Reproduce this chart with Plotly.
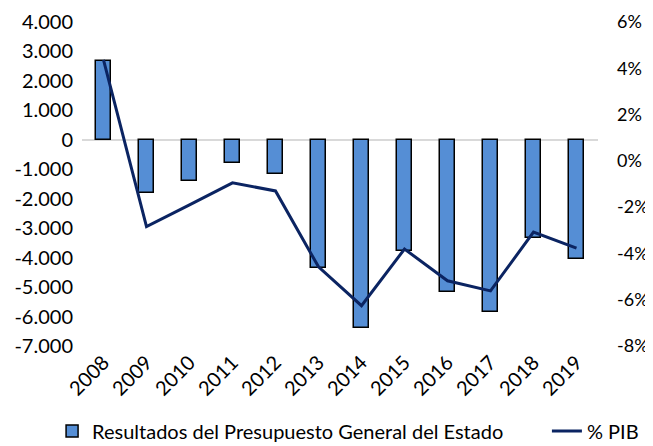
import plotly.graph_objects as go

years = ["2008", "2009", "2010", "2011", "2012", "2013", "2014", "2015", "2016", "2017", "2018", "2019"]
resultados = [2680, -1790, -1390, -780, -1150, -4350, -6380, -3790, -5160, -5840, -3350, -4040]
pct_pib = [4.36, -2.84, -1.90, -0.95, -1.30, -4.58, -6.26, -3.81, -5.18, -5.62, -3.08, -3.77]

left_ticks = [4000, 3000, 2000, 1000, 0, -1000, -2000, -3000, -4000, -5000, -6000, -7000]
left_labels = ["4.000", "3.000", "2.000", "1.000", "0", "-1.000", "-2.000", "-3.000", "-4.000", "-5.000", "-6.000", "-7.000"]
right_ticks = [6, 4, 2, 0, -2, -4, -6, -8]
right_labels = ["6%", "4%", "2%", "0%", "-2%", "-4%", "-6%", "-8%"]

FONT = "Lato"
FS = 20
fig = go.Figure()
fig.add_trace(go.Bar(
    x=years, y=resultados, name="Resultados del Presupuesto General del Estado",
    marker=dict(color="#558ED5", line=dict(color="#000000", width=1.5)),
    width=0.33, yaxis="y", legend="legend",
))
fig.add_trace(go.Scatter(
    x=years, y=pct_pib, name="% PIB", mode="lines",
    line=dict(color="#0B2462", width=3), yaxis="y2", legend="legend2",
))
fig.update_layout(
    width=645, height=438,
    margin=dict(l=74, r=55, t=14, b=100, autoexpand=False),
    paper_bgcolor="white", plot_bgcolor="white",
    font=dict(family=FONT, size=FS, color="#000000"),
    showlegend=True,
    legend=dict(orientation="h", x=-0.058, xanchor="left", y=-0.262, yanchor="middle",
                font=dict(size=FS), itemwidth=30),
    legend2=dict(orientation="h", x=0.901, xanchor="left", y=-0.262, yanchor="middle",
                 font=dict(size=FS), itemwidth=30),
    xaxis=dict(range=[-0.5, 11.5], tickangle=-45, showgrid=False, showline=False,
               ticks="", tickfont=dict(size=FS), automargin=False),
    yaxis=dict(range=[-7000, 4000], tickvals=left_ticks, ticktext=left_labels,
               showgrid=False, zeroline=True, zerolinecolor="#D9D9D9", zerolinewidth=2,
               ticks="", ticklabelstandoff=8, tickfont=dict(size=FS), automargin=False),
    yaxis2=dict(range=[-8, 6], tickvals=right_ticks, ticktext=right_labels,
                overlaying="y", side="right", showgrid=False, zeroline=False,
                ticks="", ticklabelstandoff=18, tickfont=dict(size=18), automargin=False),
    bargap=0,
)
fig.write_html("out.html")
